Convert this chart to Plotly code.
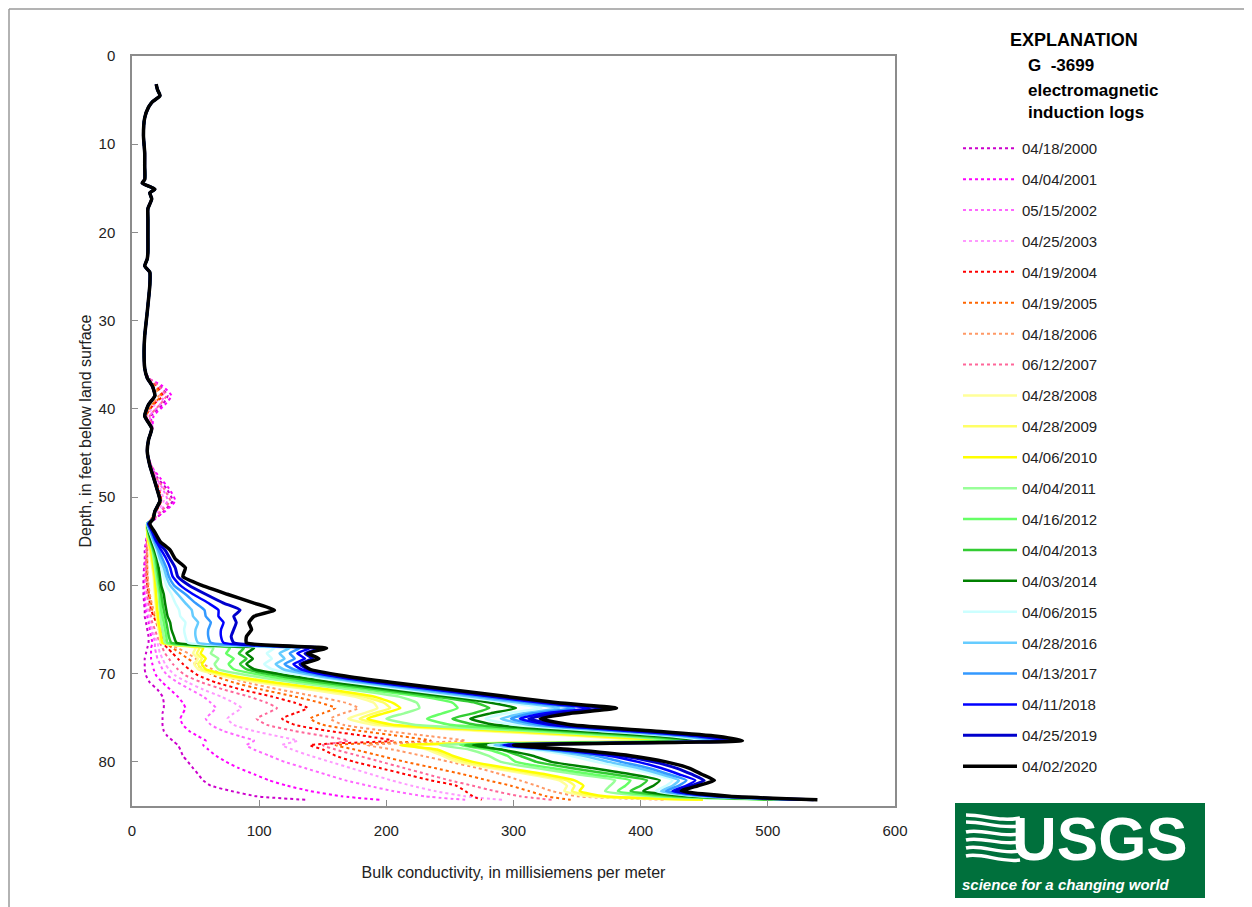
import plotly.graph_objects as go

# depth (ft below land surface) – shared upper part of every log
UPPER_DEPTH = [3.2, 3.8, 4.5, 5.2, 5.8, 7.0, 9.0, 11.0, 12.5, 14.0, 14.4, 15.1, 15.5, 16.2,
               17.3, 18.5, 20.4, 22.2, 23.0, 23.8, 24.5, 26.0, 29.0, 31.7, 33.5, 35.4]
UPPER_COND = [19, 20, 22, 16, 13, 10, 9, 10, 10, 10, 8, 18, 14, 15.5,
              12.5, 12.5, 12.5, 12.5, 12, 10, 14, 14, 12, 10, 9.5, 10]

MID_DEPTH = [36.5, 37.4, 38.5, 39.5, 40.8, 42.2, 43.5, 44.8, 46.4, 47.8, 49.0, 50.4, 51.6, 52.5]
MID_NEW = [12, 16, 18, 13, 10, 15.5, 13, 12, 14, 17, 19.5, 22, 18, 16.5]

LOWER_DEPTH = [53, 54, 55, 56, 57, 58, 59, 60, 61, 62, 62.8, 63.5, 64.2, 65, 65.8, 66.5,
               67.1, 67.7, 68.3, 68.9, 69.5, 70.2, 71, 71.8, 72.6, 73.3, 73.9, 74.5, 75.1,
               75.8, 76.5, 77.1, 77.6, 78.1, 78.6, 79.3, 80, 80.7, 81.4, 82.1, 82.7, 83.3,
               83.9, 84.3]

# bulk conductivity, mS/m
mid_2000 = [13, 22, 28, 24, 15, 16, 13, 12, 15, 20, 27, 32, 25, 18]
low_2000 = [13, 12, 11, 10, 10, 9.5, 9, 9, 9, 9.5, 10, 10, 11, 12, 13, 13, 12, 11, 10, 10, 10, 11,
            14, 20, 24, 25, 25, 24, 24, 24, 25, 28, 32, 36, 38, 40, 44, 48, 52, 56, 62, 78, 98, 137]
mid_2001 = [13, 24, 31, 26, 17, 16, 13, 12, 15, 22, 29, 34, 26, 17]
low_2001 = [13, 12, 11.5, 11, 10.5, 10, 10, 10, 10, 10.5, 11, 12, 13, 14, 15, 16, 15, 15, 15, 16,
            17, 19, 24, 30, 36, 40, 42, 40, 38, 40, 45, 52, 58, 56, 60, 66, 74, 84, 96, 108, 122,
            140, 165, 195]
mid_2002 = [13, 20, 25, 22, 14, 16, 13, 12, 15, 19, 24, 28, 22, 16]
low_2002 = [13, 12, 11.5, 11, 11, 10.5, 10.5, 10.5, 11, 11.5, 12, 13, 14, 15, 17, 18, 18, 19, 20,
            22, 24, 28, 36, 46, 56, 62, 66, 62, 58, 62, 72, 85, 96, 90, 96, 108, 120, 136, 152,
            168, 186, 205, 230, 262]
mid_2003 = [12, 18, 22, 18, 12, 15.5, 13, 12, 14, 18, 22, 25, 20, 16]
low_2003 = [13, 12, 12, 11.5, 11, 11, 11, 11, 11.5, 12, 13, 14, 15, 16, 18, 20, 21, 22, 24, 26,
            29, 34, 44, 56, 70, 80, 86, 80, 75, 80, 96, 115, 130, 118, 126, 140, 156, 172, 188,
            204, 220, 238, 262, 291]
mid_2004 = [12, 19, 24, 17, 11, 15.5, 13, 12, 14, 17, 21, 23, 19, 15]
low_2004 = [13, 12.5, 12, 12, 11.5, 11.5, 11.5, 12, 13, 14, 15, 17, 19, 21, 23, 24, 28, 32, 36,
            40, 45, 52, 66, 86, 110, 128, 138, 128, 118, 128, 155, 185, 205, 140, 150, 160, 175,
            195, 215, 235, 255, 262, 268, 275]
mid_2005 = [12, 18, 23, 16, 11, 15.5, 13, 12, 14, 17, 20, 23, 18, 15]
low_2005 = [13, 12.5, 12, 12, 12, 12, 12, 12.5, 13.5, 15, 16, 18, 20, 22, 24, 26, 32, 38, 44, 50,
            56, 64, 80, 102, 128, 148, 160, 150, 140, 150, 180, 212, 235, 160, 175, 195, 215,
            238, 260, 280, 298, 312, 326, 345]
mid_2006 = [12, 17, 21, 15, 11, 15.5, 13, 12, 14, 17, 20, 22, 18, 15]
low_2006 = [13, 12.5, 12.5, 12, 12, 12, 12.5, 13, 14, 15.5, 17, 19, 21, 23, 25, 27, 36, 44, 50,
            56, 63, 72, 90, 116, 145, 168, 178, 166, 156, 166, 200, 235, 262, 185, 205, 228, 250,
            272, 290, 305, 318, 330, 350, 420]
mid_2007 = [13, 21, 27, 22, 14, 16, 13, 12, 15, 19, 25, 30, 23, 17]
low_2007 = [13, 12.5, 12, 11.5, 11, 11, 11, 11.5, 12, 13, 14, 15, 16, 18, 20, 22, 24, 26, 29, 32,
            36, 42, 55, 72, 92, 106, 114, 106, 98, 106, 128, 152, 170, 150, 160, 178, 196, 214,
            232, 250, 268, 285, 305, 330]
low_2008 = [12, 12, 12.5, 14, 15, 16, 17, 17.5, 18, 18.5, 19, 19.5, 20, 21, 22, 22.5, 50, 48, 52,
            49, 52, 70, 100, 140, 175, 190, 193, 182, 170, 190, 275, 355, 405, 220, 232, 244, 256,
            282, 312, 336, 342, 340, 360, 442]
low_2009 = [12, 12, 13, 14.5, 15.5, 16.5, 17.5, 18, 18.5, 19, 19.5, 20, 20.5, 21.5, 22.5, 23, 53,
            51, 55, 52, 55, 74, 106, 148, 182, 198, 203, 190, 179, 198, 285, 362, 412, 215, 236,
            248, 262, 288, 318, 342, 348, 346, 365, 445]
low_2010 = [12, 12, 13, 15, 16, 17, 18, 18.5, 19, 19.5, 20, 20.5, 21, 22, 23, 24, 56, 54, 58, 55,
            58, 78, 112, 155, 190, 205, 211, 198, 185, 205, 295, 370, 420, 211, 240, 252, 268, 295,
            325, 348, 355, 352, 372, 449]
low_2011 = [12, 12.5, 14, 16, 17, 18, 19, 20, 21, 21.5, 22, 22.5, 23, 24, 25, 26, 64, 62, 68, 65,
            68, 92, 128, 172, 210, 224, 226, 214, 200, 222, 310, 385, 430, 242, 265, 280, 290, 318,
            350, 380, 376, 372, 410, 508]
low_2012 = [12, 13, 14.5, 16.5, 18, 19, 20, 21, 22, 22.5, 23, 24, 25, 26, 27, 28, 77, 74, 80, 76,
            80, 104, 140, 185, 228, 252, 256, 244, 232, 250, 325, 395, 435, 258, 280, 295, 302,
            330, 362, 392, 388, 382, 420, 512]
low_2013 = [12, 13, 15, 17, 19, 20, 21, 22, 23, 24, 25, 26, 27, 28, 29, 31, 88, 84, 90, 85, 90,
            114, 150, 195, 238, 270, 281, 268, 252, 270, 338, 405, 440, 262, 290, 305, 318, 345,
            378, 405, 400, 392, 430, 515]
low_2014 = [12, 13.5, 15.5, 18, 20, 21, 22, 23, 25, 26, 27, 28, 30, 31, 33, 35, 96, 90, 95, 90,
            96, 122, 160, 204, 248, 282, 302, 282, 266, 285, 352, 415, 446, 268, 290, 315, 330,
            362, 392, 415, 410, 402, 438, 518]
low_2015 = [12, 14, 16.5, 19, 21, 23, 25, 27, 31, 34, 37, 38, 42, 41, 42, 44, 112, 106, 110, 104,
            110, 135, 172, 214, 258, 295, 322, 295, 278, 300, 368, 425, 452, 280, 315, 345, 365,
            390, 410, 425, 420, 412, 446, 524]
low_2016 = [12, 14.5, 17, 20, 22, 25, 27, 30, 36, 42, 47, 48, 52, 50, 50, 52, 124, 116, 120, 113,
            119, 143, 180, 222, 266, 305, 336, 308, 290, 312, 378, 432, 458, 285, 322, 355, 375,
            398, 416, 430, 425, 416, 450, 527]
low_2017 = [12.5, 15, 18, 21, 24, 27, 29, 33, 42, 50, 57, 58, 62, 60, 60, 62, 132, 124, 128, 120,
            127, 150, 186, 230, 275, 314, 348, 315, 298, 320, 385, 438, 462, 290, 328, 365, 385,
            406, 422, 436, 430, 420, 455, 530]
low_2018 = [13, 16, 19, 23, 27, 30, 32, 38, 48, 60, 68, 68, 72, 70, 70, 72, 140, 130, 136, 127,
            133, 155, 192, 237, 282, 322, 360, 325, 305, 328, 392, 445, 468, 292, 334, 375, 398,
            416, 430, 443, 436, 425, 460, 533]
low_2019 = [13, 17, 20, 26, 30, 34, 36, 45, 58, 72, 85, 80, 82, 80, 78, 80, 148, 136, 142, 132,
            138, 160, 198, 243, 288, 330, 370, 335, 312, 335, 400, 452, 474, 295, 338, 385, 410,
            428, 440, 450, 440, 428, 465, 536]
low_2020 = [14, 18, 22, 30, 34, 42, 40, 55, 75, 96, 112, 96, 92, 94, 90, 90, 153, 138, 147, 134,
            140, 165, 205, 250, 295, 335, 381, 345, 321, 345, 410, 460, 480, 300, 345, 392, 420,
            438, 448, 458, 445, 432, 470, 539]

DATES = ["04/18/2000", "04/04/2001", "05/15/2002", "04/25/2003", "04/19/2004", "04/19/2005",
         "04/18/2006", "06/12/2007", "04/28/2008", "04/28/2009", "04/06/2010", "04/04/2011",
         "04/16/2012", "04/04/2013", "04/03/2014", "04/06/2015", "04/28/2016", "04/13/2017",
         "04/11/2018", "04/25/2019", "04/02/2020"]
MIDS = [mid_2000, mid_2001, mid_2002, mid_2003, mid_2004, mid_2005, mid_2006, mid_2007] + [MID_NEW] * 13
LOWS = [low_2000, low_2001, low_2002, low_2003, low_2004, low_2005, low_2006, low_2007,
        low_2008, low_2009, low_2010, low_2011, low_2012, low_2013, low_2014, low_2015,
        low_2016, low_2017, low_2018, low_2019, low_2020]

COLORS = ["#CC00CC", "#FF00FF", "#FF66FF", "#FF99FF", "#FF0000", "#FF6600", "#FF9966", "#FF6699",
          "#FFFF99", "#FFFF66", "#FFFF00", "#99FF99", "#66FF66", "#33CC33", "#008000",
          "#CCFFFF", "#66CCFF", "#3399FF", "#0000FF", "#0000CC", "#000000"]
WIDTHS = [2] * 8 + [2.5] * 11 + [3, 3.5]
DASHES = ["dot"] * 8 + ["solid"] * 13

NARROW = "Liberation Sans Narrow, Arial Narrow, Liberation Sans, sans-serif"

fig = go.Figure()
depth = UPPER_DEPTH + MID_DEPTH + LOWER_DEPTH
for i, d in enumerate(DATES):
    fig.add_trace(go.Scatter(
        x=UPPER_COND + MIDS[i] + LOWS[i],
        y=depth,
        mode="lines",
        name=d,
        legendgroup=d,
        line=dict(color=COLORS[i], width=WIDTHS[i], dash=DASHES[i], shape="spline", smoothing=0.5),
        hoverinfo="skip",
    ))


def px(x, y):
    # screenshot pixel -> paper coords (plot area 132..895 x 56..806)
    return (x - 132) / 763, (806 - y) / 750


shapes = []
# outer frame (top and left)
x0, y0 = px(9, 9)
x1, _ = px(1260, 9)
_, y1 = px(9, 915)
shapes.append(dict(type="line", xref="paper", yref="paper", x0=x0, y0=y0, x1=x1, y1=y0,
                   line=dict(color="#9a9a9a", width=1.5)))
shapes.append(dict(type="line", xref="paper", yref="paper", x0=x0, y0=y0, x1=x0, y1=y1,
                   line=dict(color="#9a9a9a", width=1.5)))

# USGS logo box
lx0, ly0 = px(955, 898)
lx1, ly1 = px(1205, 803)
shapes.append(dict(type="rect", xref="paper", yref="paper", x0=lx0, y0=ly0, x1=lx1, y1=ly1,
                   fillcolor="#00703C", line=dict(width=0)))
# wave emblem
waves = [
    [(966, 815), (985, 815), (1000, 822), (1020, 818)],
    [(966, 822), (985, 822), (1000, 829), (1020, 826)],
    [(966, 832), (982, 828), (1000, 838), (1020, 834)],
    [(966, 840), (982, 836), (1000, 846), (1020, 842)],
    [(966, 848), (982, 844), (1000, 855), (1020, 851)],
    [(966, 856), (982, 852), (1000, 863), (1020, 860)],
]
for w in waves:
    pts = [px(a, b) for a, b in w]
    path = "M{},{} C{},{} {},{} {},{}".format(pts[0][0], pts[0][1], pts[1][0], pts[1][1],
                                              pts[2][0], pts[2][1], pts[3][0], pts[3][1])
    shapes.append(dict(type="path", xref="paper", yref="paper", path=path,
                       line=dict(color="white", width=3.5)))

annotations = []
hx, hy = px(1008, 40)
annotations.append(dict(text="<b>EXPLANATION</b>", xref="paper", yref="paper", x=hx, y=hy,
                        xanchor="left", yanchor="middle", showarrow=False,
                        font=dict(family=NARROW, size=18, color="black")))
for txt, yy in [("G  -3699", 66), ("electromagnetic", 90), ("induction logs", 113)]:
    ax, ay = px(1026, yy)
    annotations.append(dict(text="<b>" + txt + "</b>", xref="paper", yref="paper", x=ax, y=ay,
                            xanchor="left", yanchor="middle", showarrow=False,
                            font=dict(family=NARROW, size=17, color="black")))
ux, uy = px(1100, 838)
annotations.append(dict(text="<b>USGS</b>", xref="paper", yref="paper", x=ux, y=uy,
                        xanchor="center", yanchor="middle", showarrow=False,
                        font=dict(family=NARROW, size=62, color="white")))
sx, sy = px(1066, 884)
annotations.append(dict(text="<b><i>science for a changing world</i></b>", xref="paper", yref="paper",
                        x=sx, y=sy, xanchor="center", yanchor="middle", showarrow=False,
                        font=dict(family=NARROW, size=15, color="white")))

lgx, lgy = px(958, 132)
fig.update_layout(
    width=1244, height=899,
    margin=dict(l=124, r=357, t=48, b=101),
    paper_bgcolor="white", plot_bgcolor="white",
    font=dict(family=NARROW, size=15, color="#222"),
    showlegend=True,
    legend=dict(x=lgx, y=lgy, xanchor="left", yanchor="top", traceorder="grouped",
                tracegroupgap=8.4, itemwidth=54, font=dict(family=NARROW, size=15, color="#222"),
                bgcolor="rgba(0,0,0,0)"),
    xaxis=dict(range=[0, 600], dtick=100, showgrid=False, zeroline=False,
               showline=True, linecolor="#8c8c8c", linewidth=1.5, mirror=True,
               ticks="inside", ticklen=6, tickcolor="#8c8c8c", ticklabelstandoff=10,
               title=dict(text="Bulk conductivity, in millisiemens per meter", standoff=29,
                          font=dict(size=16))),
    yaxis=dict(range=[85, 0], dtick=10, showgrid=False, zeroline=False,
               showline=True, linecolor="#8c8c8c", linewidth=1.5, mirror=True,
               ticks="inside", ticklen=6, tickcolor="#8c8c8c", ticklabelstandoff=12,
               title=dict(text="Depth, in feet below land surface", standoff=3,
                          font=dict(size=16))),
    shapes=shapes,
    annotations=annotations,
)

fig.write_html("out.html")
